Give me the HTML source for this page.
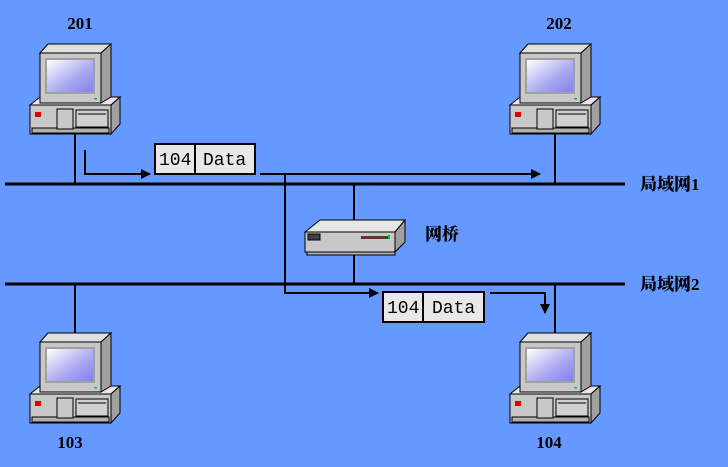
<!DOCTYPE html>
<html><head><meta charset="utf-8"><style>
html,body{margin:0;padding:0;background:#6699FF;}
svg{display:block}
text{font-family:"Liberation Serif","Noto Serif CJK SC",serif;}
</style></head><body>
<svg width="728" height="467" viewBox="0 0 728 467" xmlns="http://www.w3.org/2000/svg">
<defs>
<linearGradient id="scr" x1="0" y1="0" x2="1" y2="1">
<stop offset="0" stop-color="#ffffff"/><stop offset="0.6" stop-color="#a8a8f0"/><stop offset="1" stop-color="#8080ee"/></linearGradient>
<marker id="ah" viewBox="0 0 10 10" refX="9" refY="5" markerWidth="12" markerHeight="10" orient="auto" markerUnits="userSpaceOnUse"><path d="M0,0 L10,5 L0,10 z" fill="#000"/></marker>
<g id="pc" stroke="#000" stroke-width="1">
<polygon points="0,61 10,53 90,53 81,61" fill="#e6e6e6"/>
<polygon points="81,61 90,53 90,80 81,90" fill="#a0a0a0"/>
<rect x="0" y="61" width="81" height="29" fill="#c8c8c8"/>
<rect x="2" y="84" width="77" height="5" fill="#b0b0b0"/>
<rect x="5" y="68" width="6" height="5" fill="#e00000" stroke="none"/>
<rect x="27" y="65" width="16" height="20" fill="#c8c8c8"/>
<rect x="46" y="66" width="32" height="17" fill="#d0d0d0"/>
<line x1="48" y1="70" x2="76" y2="70"/>
<polygon points="10,9 18,0 81,0 71,9" fill="#e0e0e0"/>
<polygon points="71,9 81,0 81,53 71,59" fill="#a0a0a0"/>
<rect x="10" y="9" width="61" height="50" fill="#c8c8c8"/>
<rect x="15" y="14" width="50" height="36" fill="#a0a0a0" stroke="none"/>
<rect x="17" y="16" width="46" height="32" fill="url(#scr)" stroke="none"/>
<rect x="64" y="54" width="3" height="1.5" fill="#00d000" stroke="none"/>
</g>
</defs>
<rect width="728" height="467" fill="#6699FF"/>
<line x1="5" y1="184" x2="625" y2="184" stroke="#000" stroke-width="3"/>
<line x1="5" y1="284" x2="625" y2="284" stroke="#000" stroke-width="3"/>
<g stroke="#000" stroke-width="2">
<line x1="75" y1="130" x2="75" y2="184"/>
<line x1="555" y1="130" x2="555" y2="184"/>
<line x1="75" y1="284" x2="75" y2="334"/>
<line x1="555" y1="284" x2="555" y2="334"/>
<line x1="354" y1="184" x2="354" y2="222"/>
<line x1="354" y1="250" x2="354" y2="284"/>
</g>
<use href="#pc" x="30" y="44"/>
<use href="#pc" x="510" y="44"/>
<use href="#pc" x="30" y="333"/>
<use href="#pc" x="510" y="333"/>
<g stroke="#000" stroke-width="1">
<polygon points="305,232 320,220 405,220 395,232" fill="#e6e6e6"/>
<polygon points="395,232 405,220 405,242 395,252" fill="#a0a0a0"/>
<rect x="305" y="232" width="90" height="20" fill="#c8c8c8"/>
<rect x="307" y="252" width="88" height="3" fill="#b0b0b0"/>
<rect x="308" y="234" width="12" height="6" fill="#404040"/>
<rect x="361" y="236" width="28" height="3" fill="#404040" stroke="none"/>
<rect x="365" y="237" width="2" height="2" fill="#e00" stroke="none"/>
<rect x="372" y="237" width="2" height="2" fill="#e00" stroke="none"/>
<rect x="378" y="237" width="2" height="2" fill="#e00" stroke="none"/>
<rect x="388" y="235" width="2" height="4" fill="#0c0" stroke="none"/>
</g>
<g stroke="#000" stroke-width="2" fill="none">
<polyline points="85,150 85,174 150,174" marker-end="url(#ah)"/>
<line x1="260" y1="174" x2="540" y2="174" marker-end="url(#ah)"/>
<polyline points="285,174 285,293 378,293" marker-end="url(#ah)"/>
<polyline points="490,293 545,293 545,313" marker-end="url(#ah)"/>
</g>
<g stroke="#000" stroke-width="2" fill="#e8e8e8">
<rect x="155" y="144" width="100" height="30"/>
<line x1="195" y1="144" x2="195" y2="174"/>
<rect x="383" y="292" width="101" height="30"/>
<line x1="423" y1="292" x2="423" y2="322"/>
</g>
<g font-size="18" fill="#000">
<text x="159" y="165" style="font-family:'Liberation Mono',monospace">104</text>
<text x="203" y="165" style="font-family:'Liberation Mono',monospace">Data</text>
<text x="387" y="313" style="font-family:'Liberation Mono',monospace">104</text>
<text x="432" y="313" style="font-family:'Liberation Mono',monospace">Data</text>
</g>
<g font-size="17" font-weight="bold" fill="#000" text-anchor="middle">
<text x="80" y="29">201</text>
<text x="559" y="29">202</text>
<text x="70" y="448">103</text>
<text x="549" y="448">104</text>
</g>
<g font-size="17" font-weight="bold" fill="#000" style="font-family:'Liberation Serif','Noto Sans CJK SC',sans-serif;font-weight:900">
<text x="425" y="240">网桥</text>
<text x="640" y="190">局域网1</text>
<text x="640" y="290">局域网2</text>
</g>
</svg>
</body></html>
